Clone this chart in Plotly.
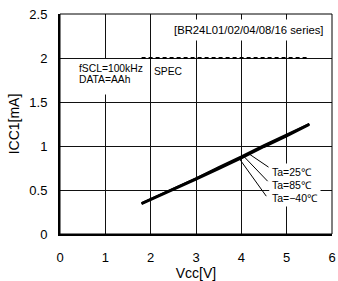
import plotly.graph_objects as go

# ---- data ----
vcc = [1.8, 2.5, 3.0, 3.5, 4.0, 4.5, 5.0, 5.5]
icc_25 = [0.35, 0.51, 0.63, 0.75, 0.87, 1.00, 1.12, 1.25]
icc_85 = [0.34, 0.50, 0.62, 0.74, 0.86, 0.99, 1.11, 1.24]
icc_m40 = [0.35, 0.51, 0.63, 0.76, 0.88, 1.01, 1.13, 1.25]
spec_x = [1.8, 5.45]
spec_y = [2.0, 2.0]
x_ticks = [0, 1, 2, 3, 4, 5, 6]
y_ticks = [0, 0.5, 1, 1.5, 2, 2.5]
y_tick_text = ["0", "0.5", "1", "1.5", "2", "2.5"]
temp_labels = ["Ta=25℃", "Ta=85℃", "Ta=−40℃"]
cond_labels = ["fSCL=100kHz", "DATA=AAh"]
# label anchors (data coords) and the curve point each leader line starts from
label_pos = [(4.62, 0.705), (4.62, 0.56), (4.62, 0.408)]
cond_pos = [(0.37, 1.885), (0.37, 1.752)]
leader_from = [(4.17, 0.91), (4.04, 0.89), (3.95, 0.86)]
leader_to = [(4.60, 0.76), (4.58, 0.60), (4.55, 0.43)]

FONT = "Liberation Sans, Arial, sans-serif"

fig = go.Figure()
for ys in (icc_85, icc_m40, icc_25):
    fig.add_trace(go.Scatter(x=vcc, y=ys, mode="lines",
                             line=dict(color="black", width=2.2),
                             showlegend=False, hoverinfo="skip"))
fig.add_trace(go.Scatter(x=spec_x, y=spec_y, mode="lines",
                         line=dict(color="black", width=2, dash="4px,3px"),
                         showlegend=False, hoverinfo="skip"))

shapes = [
    # white backing behind the condition text (hides the gridline there)
    dict(type="rect", xref="x", yref="y", x0=0.27, x1=1.87, y0=1.585, y1=1.988,
         fillcolor="white", line=dict(width=0), layer="between"),
]
for (x0, y0), (x1, y1) in zip(leader_from, leader_to):
    shapes.append(dict(type="line", xref="x", yref="y", x0=x0, y0=y0, x1=x1, y1=y1,
                       line=dict(color="black", width=1)))

annotations = [
    dict(x=2.04, y=1.844, xref="x", yref="y", text="SPEC",
         showarrow=False, xanchor="left", yanchor="middle",
         font=dict(family=FONT, size=10.3, color="black")),
    dict(x=5.91, y=2.314, xref="x", yref="y", text="[BR24L01/02/04/08/16 series]",
         showarrow=False, xanchor="right", yanchor="middle",
         font=dict(family=FONT, size=11.3, color="black"),
         bgcolor="white", borderpad=4),
]
for txt, (cx, cy) in zip(cond_labels, cond_pos):
    annotations.append(dict(x=cx, y=cy, xref="x", yref="y", text=txt,
                            showarrow=False, xanchor="left", yanchor="middle",
                            font=dict(family=FONT, size=10.3, color="black")))
for txt, (lx, ly) in zip(temp_labels, label_pos):
    annotations.append(dict(x=lx, y=ly, xref="x", yref="y", text=txt,
                            showarrow=False, xanchor="left", yanchor="middle",
                            font=dict(family=FONT, size=10.5, color="black"),
                            bgcolor="white", borderpad=2))

fig.update_layout(
    width=338, height=281,
    margin=dict(l=60, r=2, t=14, b=47),
    paper_bgcolor="white", plot_bgcolor="white",
    font=dict(family=FONT, size=13, color="black"),
    shapes=shapes, annotations=annotations,
    xaxis=dict(range=[0, 6], tickvals=x_ticks, showgrid=True, gridcolor="#111111",
               gridwidth=1, showline=True, linecolor="black", linewidth=2,
               zeroline=False, ticks="outside", ticklen=10, tickcolor="rgba(0,0,0,0)",
               ticklabeloverflow="allow",
               title=dict(text="Vcc[V]", font=dict(size=14), standoff=4),
               tickfont=dict(size=13)),
    yaxis=dict(range=[0, 2.5], tickvals=y_ticks, ticktext=y_tick_text,
               showgrid=True, gridcolor="#111111", gridwidth=1,
               showline=True, linecolor="black", linewidth=2, zeroline=False,
               ticks="outside", ticklen=8, tickcolor="rgba(0,0,0,0)",
               title=dict(text="ICC1[mA]", font=dict(size=14), standoff=6),
               tickfont=dict(size=13)),
)
fig.add_shape(type="rect", xref="paper", yref="paper", x0=0, y0=0, x1=1, y1=1,
              line=dict(color="black", width=1), layer="above")

fig.write_html("out.html", config={"displayModeBar": False},
               post_script="document.body.style.margin='0';document.body.style.overflow='hidden';")
